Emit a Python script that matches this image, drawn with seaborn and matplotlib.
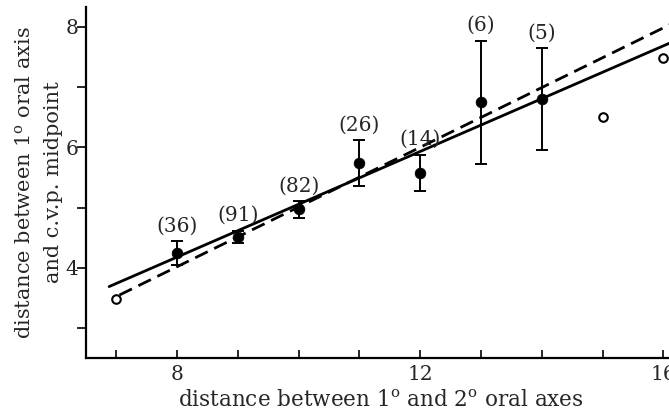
import numpy as np
import pandas as pd
import matplotlib
matplotlib.use('Agg')
import matplotlib.pyplot as plt
import seaborn as sns
from matplotlib.ticker import FixedLocator

# =============================================================================
# Data
# =============================================================================

# class means with error bars (filled points) and sample sizes
mean_x = [8, 9, 10, 11, 12, 13, 14]
mean_y = [4.24, 4.52, 4.97, 5.74, 5.58, 6.75, 6.80]
err_y = [0.20, 0.10, 0.14, 0.38, 0.30, 1.02, 0.85]
n_obs = ['(36)', '(91)', '(82)', '(26)', '(14)', '(6)', '(5)']

# single observations (open points)
single_x = [7, 15, 16]
single_y = [3.48, 6.50, 7.48]

# fitted lines (end points)
solid_x = [6.88, 16.2]
solid_y = [3.69, 7.77]
dashed_x = [7.05, 16.2]
dashed_y = [3.55, 8.08]

means_df = pd.DataFrame({'x': mean_x, 'y': mean_y, 'err': err_y, 'n': n_obs})
single_df = pd.DataFrame({'x': single_x, 'y': single_y})
solid_df = pd.DataFrame({'x': solid_x, 'y': solid_y})
dashed_df = pd.DataFrame({'x': dashed_x, 'y': dashed_y})

# =============================================================================
# Plot
# =============================================================================

sns.set_theme(style='ticks')
plt.rcParams['font.family'] = ['DejaVu Serif']
plt.rcParams['mathtext.fontset'] = 'dejavuserif'

fig = plt.figure(figsize=(6.69, 4.13), dpi=100)
ax = fig.add_axes([0.1286, 0.1324, 0.881, 0.851])

sns.lineplot(data=solid_df, x='x', y='y', color='black', lw=2.0, ax=ax)
sns.lineplot(data=dashed_df, x='x', y='y', color='black', lw=2.0, ax=ax,
             dashes=False, linestyle=(0, (5, 2.6)))

ax.errorbar(means_df['x'], means_df['y'], yerr=means_df['err'], fmt='none',
            ecolor='black', elinewidth=1.4, capsize=4, capthick=1.4)
sns.scatterplot(data=means_df, x='x', y='y', color='black', s=60,
                edgecolor='black', linewidth=0.5, ax=ax, zorder=5)
sns.scatterplot(data=single_df, x='x', y='y', facecolor='white', s=38,
                edgecolor='black', linewidth=1.5, ax=ax, zorder=5)

for _, row in means_df.iterrows():
    ax.annotate(row['n'], (row['x'], row['y'] + row['err']),
                xytext=(0, 4), textcoords='offset points',
                ha='center', va='bottom', fontsize=14.5)

ax.set_xlim(6.5, 16.2)
ax.set_ylim(2.5, 8.33)

ax.xaxis.set_major_locator(FixedLocator([8, 12, 16]))
ax.xaxis.set_minor_locator(FixedLocator([7, 9, 10, 11, 13, 14, 15]))
ax.yaxis.set_major_locator(FixedLocator([4, 6, 8]))
ax.yaxis.set_minor_locator(FixedLocator([3, 5, 7]))

ax.tick_params(axis='x', which='both', direction='in', length=5.5, width=1.4,
               labelsize=14.5, pad=4.5)
ax.tick_params(axis='y', which='both', direction='out', length=6.5, width=1.4,
               labelsize=14.5, pad=-1)

sns.despine(ax=ax)
for s in ['left', 'bottom']:
    ax.spines[s].set_linewidth(1.6)
    ax.spines[s].set_color('black')

ax.set_xlabel('distance between 1$^{\\mathrm{o}}$ and 2$^{\\mathrm{o}}$ oral axes',
              fontsize=15.5, labelpad=4)
ax.set_ylabel('distance between 1$^{\\mathrm{o}}$ oral axis\nand c.v.p. midpoint',
              fontsize=15, labelpad=2, linespacing=1.6)

fig.savefig('out.png', dpi=100)
